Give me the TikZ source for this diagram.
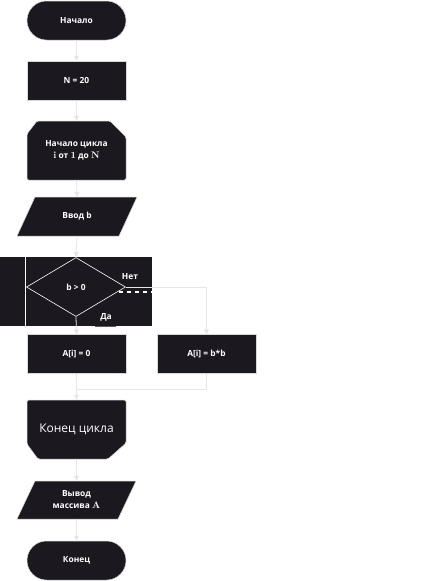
\documentclass[tikz,border=0pt]{standalone}
\usepackage{fontspec}
\newfontfamily\osans{Open Sans}
\usetikzlibrary{shapes.geometric,arrows.meta}
\definecolor{dk}{RGB}{27,24,32}
\definecolor{ln}{RGB}{230,230,230}
\definecolor{bd}{RGB}{215,215,215}
\begin{document}
\begin{tikzpicture}[x=1pt,y=-1pt,
 shp/.style={fill=dk,draw=bd,line width=0.5pt},
 lbl/.style={text=white,font=\osans\bfseries\fontsize{8.4}{12}\selectfont,align=center,inner sep=0,minimum width=99pt,minimum height=39pt},
 tag/.style={text=white,font=\osans\bfseries\fontsize{8.4}{10}\selectfont,inner sep=0},
 con/.style={draw=ln,line width=0.8pt},
 arr/.style={con,-{Triangle[length=5pt,width=5pt]}}]
\useasboundingbox[fill=white] (0,0) rectangle (437,581);
% start
\node[shp,lbl,rounded corners=19.5pt] (start) at (76.5,20.5) {Начало};
\node[shp,lbl] (n) at (76.5,80.5) {N = 20};
% loop start
\draw[shp,rounded corners=1.5pt] (27,134)--(37,121)--(110,121)--(126,137)--(126,180)--(27,180)--cycle;
\node[lbl,minimum height=59pt] (ls) at (76.5,150.5) {Начало цикла\\{\rmfamily\bfseries\fontsize{9.5}{12}\selectfont i} от {\rmfamily\bfseries\fontsize{9.5}{12}\selectfont 1} до {\rmfamily\bfseries\fontsize{9.5}{12}\selectfont N}};
% input
\draw[shp] (17,236)--(35,197)--(137,197)--(119,236)--cycle;
\node[lbl] (in) at (77,216.5) {Ввод b};
% decision
\fill[dk] (0,257) rectangle (152,326);
\draw[white,line width=0.8pt] (25,257)--(25,326);
\node[diamond,draw=white,fill=dk,line width=0.6pt,minimum width=99pt,minimum height=59pt,inner sep=0,aspect=1.68,text=white,font=\osans\bfseries\fontsize{8.4}{10}\selectfont] (dec) at (76,287) {b > 0};
\node[tag] (no) at (130,277) {Нет};
\node[tag] (yes) at (106,317) {Да};
\draw[white,line width=1.2pt,dash pattern=on 4pt off 4pt] (119,292)--(152,292);
\draw[gray!70!black,line width=1pt] (95,326)--(116,326);
% branches
\node[shp,lbl] (a0) at (76.5,354) {A[i] = 0};
\node[shp,lbl] (ab) at (206.5,354) {A[i] = b*b};
% loop end
\draw[shp,rounded corners=1.5pt] (27,400)--(126,400)--(126,443)--(108,459)--(38,459)--(27,444)--cycle;
\node[lbl,minimum height=59pt,font=\osans\fontsize{12}{14}\selectfont] (le) at (76.5,429.5) {Конец цикла};
% output
\draw[shp] (17,519)--(35,481)--(136,481)--(118,519)--cycle;
\node[lbl,minimum height=38pt] (out) at (76.5,500) {Вывод\\массива {\rmfamily\bfseries\fontsize{9.5}{12}\selectfont A}};
\node[shp,lbl,rounded corners=19.5pt] (end) at (76.5,560.5) {Конец};
\coordinate (m) at (76.5,389);
% connectors
\draw[arr] (start.south)--(n.north);
\draw[arr] (n.south)--(ls.north);
\draw[arr] (ls.south)--(in.north);
\draw[arr] (in.south)--(dec.north);
\draw[arr] (dec.south)--(a0.north);
\draw[arr] (dec.east)-|(ab.north);
\draw[con] (a0.south)--(m);
\draw[con] (ab.south)|-(m);
\draw[arr] (m)--(le.north);
\draw[arr] (le.south)--(out.north);
\draw[arr] (out.south)--(end.north);
\end{tikzpicture}
\end{document}
